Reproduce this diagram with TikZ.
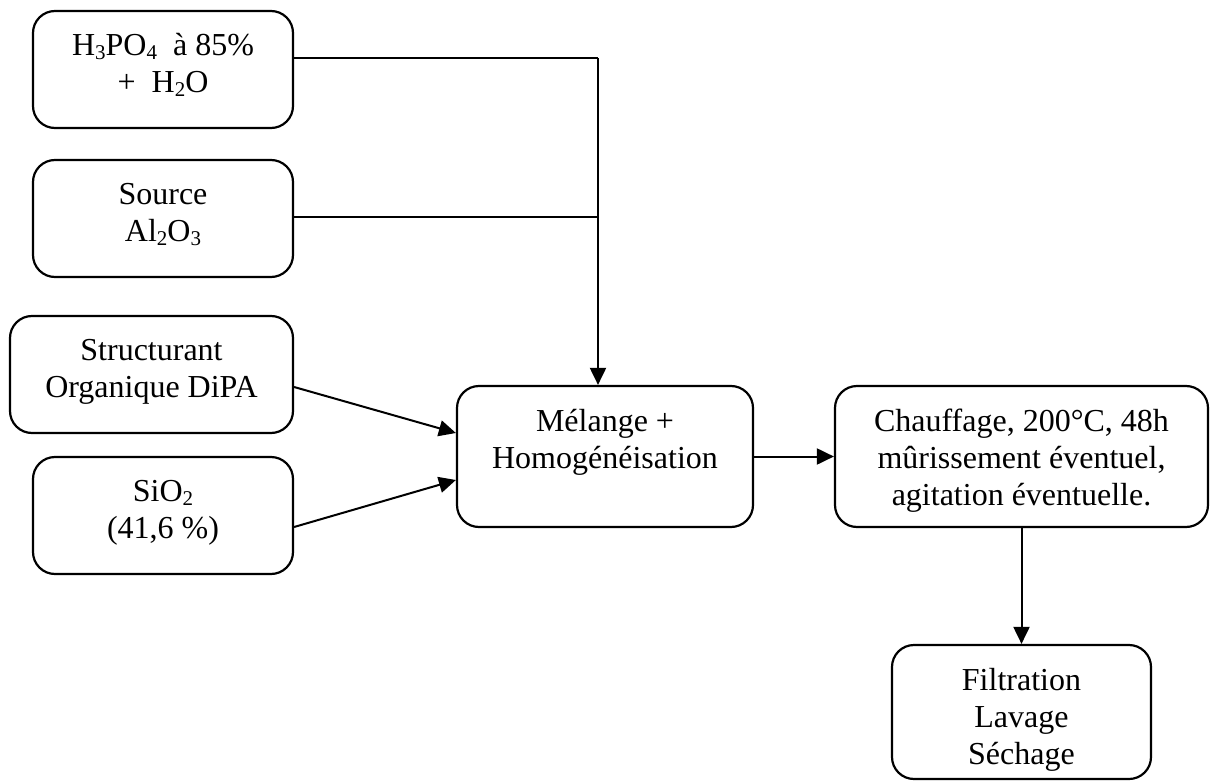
\documentclass[tikz,border=0pt]{standalone}
\usepackage{fontspec}
\setmainfont{Liberation Serif}
\usetikzlibrary{arrows.meta,calc}
% chemical subscript: smaller figure, slightly lowered
\newcommand{\chemsub}[1]{\raisebox{-4pt}{\fontsize{21}{21}\selectfont #1}}
\begin{document}
\begin{tikzpicture}[x=1pt,y=-1pt,
  stepbox/.style={draw, line width=2.2pt, rounded corners=22pt, inner sep=0pt},
  boxtext/.style={anchor=north, align=center, inner sep=0pt,
    font=\fontsize{32}{36.8}\selectfont},
  link/.style={line width=2pt},
  flow/.style={link, -{Triangle[length=17pt,width=16pt]}}]

\useasboundingbox (0,0) rectangle (1210,781);

% boxes
\node[stepbox, minimum width=260pt, minimum height=117pt] (acid)   at (163,69.5)   {};
\node[stepbox, minimum width=260pt, minimum height=117pt] (alum)   at (163,218.5)  {};
\node[stepbox, minimum width=283pt, minimum height=117pt] (struct) at (151.5,374.5){};
\node[stepbox, minimum width=260pt, minimum height=117pt] (silica) at (163,515.5)  {};
\node[stepbox, minimum width=296pt, minimum height=141pt] (mix)    at (605,456.5)  {};
\node[stepbox, minimum width=373pt, minimum height=141pt] (heat)   at (1021.5,456.5){};
\node[stepbox, minimum width=259pt, minimum height=134pt] (filt)   at (1021.5,712) {};

% labels
\node[boxtext] (acid-t)   at ($(acid.north)+(0,20)$)   {\strut H\chemsub{3}PO\chemsub{4}\ \ à 85\%\\+\ \ H\chemsub{2}O};
\node[boxtext] (alum-t)   at ($(alum.north)+(0,20)$)   {\strut Source\\Al\chemsub{2}O\chemsub{3}};
\node[boxtext] (struct-t) at ($(struct.north)+(0,20)$) {\strut Structurant\\Organique DiPA};
\node[boxtext] (silica-t) at ($(silica.north)+(0,20)$) {\strut SiO\chemsub{2}\\(41,6 \%)};
\node[boxtext] (mix-t)    at ($(mix.north)+(0,21)$)    {\strut Mélange +\\Homogénéisation};
\node[boxtext] (heat-t)   at ($(heat.north)+(0,21)$)   {\strut Chauffage, 200°C, 48h\\mûrissement éventuel,\\agitation éventuelle.};
\node[boxtext] (filt-t)   at ($(filt.north)+(0,21)$)   {\strut Filtration\\Lavage\\Séchage};

% connectors
\coordinate (j1) at (598,58);
\coordinate (j2) at (598,217);
\draw[link] (acid.east |- j1) -- (j1);
\draw[link] (alum.east |- j2) -- (j2);
\draw[flow] (j1) -- (j1 |- mix.north);
\draw[flow] ($(struct.east)+(0,12.5)$) -- ($(mix.west)+(0,-23.5)$);
\draw[flow] ($(silica.east)+(0,11.5)$) -- ($(mix.west)+(0,23.5)$);
\draw[flow] (mix.east) -- (heat.west);
\draw[flow] (heat.south) -- (filt.north);
\end{tikzpicture}
\end{document}
